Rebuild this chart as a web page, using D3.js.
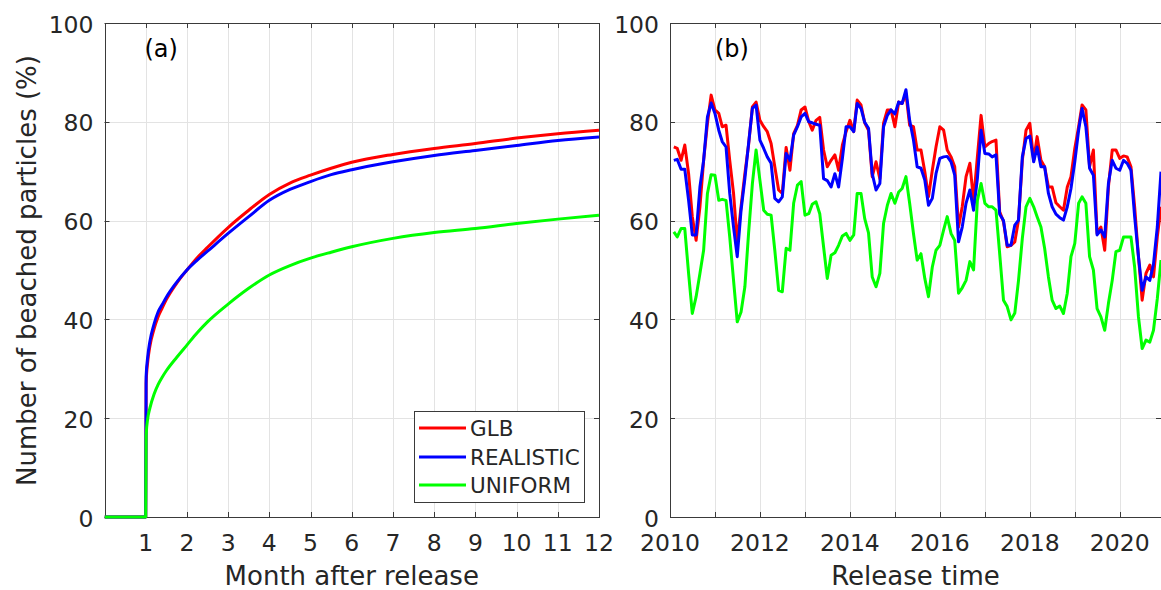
<!DOCTYPE html>
<html><head><meta charset="utf-8">
<script src="https://cdn.jsdelivr.net/npm/d3@7"></script>
<style>
body{margin:0;background:#fff}
svg{display:block}
text{font-family:"DejaVu Sans",sans-serif;fill:#262626}
</style>
</head><body>
<svg id="c" width="1161" height="590"></svg>
<script>
// ---------- data: panel (a) cumulative beaching vs month after release ----------
const monthsAfter = [0, 1, 1.01, 1.05, 1.1, 1.2, 1.3, 1.4, 1.5, 1.75, 2, 2.25, 2.5, 3, 3.5, 4, 4.5, 5, 5.5, 6, 7, 8, 9, 10, 11, 12];
const cumGLB      = [0, 0, 27.0, 31.5, 34.5, 38.0, 40.5, 42.3, 44.0, 47.3, 50.0, 52.5, 54.6, 58.6, 62.1, 65.3, 67.6, 69.2, 70.6, 71.8, 73.4, 74.6, 75.6, 76.7, 77.6, 78.3];
const cumREALISTIC= [0, 0, 28.5, 32.5, 35.5, 39.0, 41.5, 43.0, 44.5, 47.5, 50.0, 52.0, 53.8, 57.4, 60.8, 64.1, 66.3, 67.9, 69.3, 70.3, 71.9, 73.2, 74.2, 75.2, 76.2, 76.9];
const cumUNIFORM  = [0, 0, 16.5, 20.0, 22.0, 24.8, 26.8, 28.3, 29.6, 32.3, 34.8, 37.3, 39.5, 43.1, 46.3, 49.0, 50.9, 52.4, 53.6, 54.7, 56.4, 57.6, 58.4, 59.4, 60.3, 61.1];

// ---------- data: panel (b) beached fraction vs release time (monthly, Feb 2010 - Dec 2020) ----------
const releaseTimes = d3.timeMonth.range(new Date(2010, 1, 1), new Date(2021, 0, 1));
const tsGLB = [74.9,74.6,72.2,75.3,69.5,60.8,56.0,62.8,72.2,79.7,85.4,82.4,81.7,79.0,79.3,72.2,65.5,55.7,62.8,69.5,
  75.3,83.0,84.0,80.3,79.0,78.0,75.6,70.9,66.2,65.5,74.8,70.2,77.6,79.3,82.4,83.0,80.0,78.3,80.3,80.9,
  74.3,70.9,72.2,73.3,70.2,75.3,78.0,80.3,78.0,84.4,83.4,79.8,78.3,68.9,71.9,68.5,79.7,82.4,82.4,79.0,
  84.0,83.7,85.7,79.3,79.0,74.3,74.3,69.9,64.8,70.2,74.9,79.0,78.3,74.3,72.9,70.9,58.7,62.8,68.9,71.6,
  64.1,72.9,81.3,74.9,75.6,76.0,76.3,61.8,59.8,54.7,55.0,55.7,60.1,72.2,78.3,79.7,72.2,77.0,72.2,70.9,
  66.8,66.8,63.6,62.8,62.1,66.8,68.9,74.6,79.0,83.4,82.4,70.9,74.3,57.4,58.7,54.0,66.8,74.3,74.3,72.6,
  73.1,72.9,70.9,62.8,52.7,43.9,49.3,51.0,48.6,56.7,62.8];
const tsREALISTIC = [72.2,72.4,70.4,70.4,64.1,57.1,57.1,66.8,72.2,81.0,83.8,81.7,78.3,76.0,74.9,65.5,58.7,52.7,62.1,68.5,
  75.6,82.7,83.4,76.3,74.6,72.9,71.6,64.5,63.8,64.8,73.6,72.2,77.3,79.0,81.0,81.7,80.0,79.8,79.5,79.3,
  68.5,68.1,66.8,69.5,66.8,72.6,79.0,79.0,78.0,83.7,82.7,79.9,78.7,69.5,66.2,67.5,79.0,81.3,82.4,81.6,
  84.0,83.7,86.5,80.3,76.3,70.9,70.6,68.2,63.1,64.5,69.5,72.6,72.9,73.0,71.9,69.2,55.7,58.7,63.5,66.2,
  62.1,68.5,78.3,73.6,73.5,72.9,73.3,61.3,60.0,55.0,55.0,59.1,60.1,72.9,76.6,77.1,71.9,74.9,70.9,70.9,
  65.5,62.8,61.3,60.6,60.1,62.8,66.5,71.9,78.3,82.7,79.0,70.6,69.2,57.1,58.1,56.7,67.5,72.2,70.6,70.2,
  72.2,71.6,70.2,60.8,52.7,45.9,48.6,47.9,51.2,58.7,69.9];
const tsUNIFORM = [57.7,56.7,58.4,58.4,49.3,41.2,44.6,49.3,54.0,65.5,69.3,69.2,64.1,64.3,64.1,56.7,47.9,39.5,41.5,46.6,
  57.4,67.5,74.3,68.2,62.1,61.3,61.1,54.0,45.9,45.6,54.4,54.0,63.5,67.2,67.9,61.1,61.4,63.3,63.8,61.4,
  54.7,48.3,53.0,53.5,55.0,56.9,57.4,56.0,57.1,65.5,65.5,60.4,57.5,48.6,46.6,49.3,59.4,63.1,65.5,63.5,
  65.8,66.5,68.9,63.5,57.4,52.0,53.3,48.3,44.6,50.6,54.0,55.0,58.1,60.8,57.4,56.0,45.3,46.4,47.9,51.7,
  50.0,64.1,67.5,63.5,62.8,62.8,62.1,53.3,43.9,42.6,39.9,41.3,47.9,56.4,62.8,64.5,62.8,60.8,58.7,54.4,
  48.6,43.9,42.2,42.7,41.2,45.3,52.7,55.4,63.5,64.8,63.5,52.7,50.0,42.2,40.5,37.8,43.2,47.9,53.7,54.0,
  56.7,56.7,56.7,50.6,40.5,34.1,35.8,35.4,37.8,44.2,52.0];

const seriesNames  = ["GLB", "REALISTIC", "UNIFORM"];
const seriesColors = ["#ff0000", "#0000ff", "#00ff00"];
const yTicks = [0, 20, 40, 60, 80, 100];
const monthTicks = [1, 2, 3, 4, 5, 6, 7, 8, 9, 10, 11, 12];
const yearTicks = [2010, 2011, 2012, 2013, 2014, 2015, 2016, 2017, 2018, 2019, 2020];
const yearLabels = ["2010", "", "2012", "", "2014", "", "2016", "", "2018", "", "2020"];

// ---------- drawing ----------
const svg = d3.select("#c");
const yTop = 23, yBottom = 517;
const axisCol = "#3a3a3a", gridCol = "#e3e3e3";
const y = d3.scaleLinear().domain([0, 100]).range([yBottom, yTop]);

const xa = d3.scaleLinear().domain([0, 12]).range([104.5, 599]);
const xb = d3.scaleTime().domain([new Date(2010, 0, 1), new Date(2020, 11, 1)]).range([670, 1161]);

function panel(g, xTickPos, xTickLabels, xTitle, tag, x0, x1, id) {
  g.append("g").selectAll("line").data(xTickPos.filter(p => p > x0 + 1 && p < x1 - 1)).join("line")
    .attr("x1", d => Math.round(d) + 0.5).attr("x2", d => Math.round(d) + 0.5)
    .attr("y1", yTop).attr("y2", yBottom).attr("stroke", gridCol).attr("stroke-width", 1);
  g.append("g").selectAll("line").data(yTicks.filter(t => t > 0 && t < 100)).join("line")
    .attr("x1", x0).attr("x2", x1).attr("y1", d => Math.round(y(d)) + 0.5).attr("y2", d => Math.round(y(d)) + 0.5)
    .attr("stroke", gridCol).attr("stroke-width", 1);
  svg.append("clipPath").attr("id", id).append("rect")
    .attr("x", x0).attr("y", yTop - 2).attr("width", x1 - x0).attr("height", yBottom - yTop + 4);
  g.append("rect").attr("x", Math.round(x0) + 0.5).attr("y", yTop + 0.5)
    .attr("width", Math.round(x1) - Math.round(x0)).attr("height", yBottom - yTop)
    .attr("fill", "none").attr("stroke", axisCol).attr("stroke-width", 1);
  const tk = 5;
  g.append("g").selectAll("line").data(xTickPos).join("line")
    .attr("x1", d => Math.round(d) + 0.5).attr("x2", d => Math.round(d) + 0.5)
    .attr("y1", yBottom).attr("y2", yBottom - tk).attr("stroke", axisCol);
  g.append("g").selectAll("line").data(xTickPos).join("line")
    .attr("x1", d => Math.round(d) + 0.5).attr("x2", d => Math.round(d) + 0.5)
    .attr("y1", yTop).attr("y2", yTop + tk).attr("stroke", axisCol);
  g.append("g").selectAll("line").data(yTicks).join("line")
    .attr("x1", x0).attr("x2", x0 + tk).attr("y1", d => Math.round(y(d)) + 0.5).attr("y2", d => Math.round(y(d)) + 0.5)
    .attr("stroke", axisCol);
  g.append("g").selectAll("line").data(yTicks).join("line")
    .attr("x1", x1).attr("x2", x1 - tk).attr("y1", d => Math.round(y(d)) + 0.5).attr("y2", d => Math.round(y(d)) + 0.5)
    .attr("stroke", axisCol);
  g.append("g").selectAll("text").data(yTicks).join("text")
    .attr("x", x0 - 11).attr("y", d => y(d) + 9.5).attr("text-anchor", "end")
    .style("font-size", "23.5px").text(d => d);
  g.append("g").selectAll("text").data(xTickPos.map((p, i) => [p, xTickLabels[i]])).join("text")
    .attr("x", d => d[0]).attr("y", 550.5).attr("text-anchor", "middle")
    .style("font-size", "23.5px").text(d => d[1]);
  g.append("text").attr("x", (x0 + x1) / 2).attr("y", 585).attr("text-anchor", "middle")
    .style("font-size", "26px").text(xTitle);
  g.append("text").attr("x", x0 + (tag === "(a)" ? 40 : 45)).attr("y", 57)
    .style("font-size", "24px").style("fill", "#000").text(tag);
}

const ga = svg.append("g");
panel(ga, monthTicks.map(xa), monthTicks.map(String), "Month after release", "(a)", 104.5, 599, "clipA");
const gb = svg.append("g");
panel(gb, yearTicks.map(t => xb(new Date(t, 0, 1))), yearLabels, "Release time", "(b)", 670, 1161, "clipB");

svg.append("text").attr("transform", "translate(36,270.5) rotate(-90)").attr("text-anchor", "middle")
  .style("font-size", "26px").text("Number of beached particles (%)");

const cumSeries = [cumGLB, cumREALISTIC, cumUNIFORM];
const lineA = d3.line().x((d, i) => xa(monthsAfter[i])).y(d => y(d)).curve(d3.curveMonotoneX);
ga.append("g").attr("clip-path", "url(#clipA)").selectAll("path").data(cumSeries).join("path")
  .attr("d", lineA).attr("fill", "none").attr("stroke", (d, i) => seriesColors[i])
  .attr("stroke-width", 3).attr("stroke-linejoin", "round");

const tsSeries = [tsGLB, tsREALISTIC, tsUNIFORM];
const lineB = d3.line().x((d, i) => xb(releaseTimes[i])).y(d => y(d));
gb.append("g").attr("clip-path", "url(#clipB)").selectAll("path").data(tsSeries).join("path")
  .attr("d", lineB).attr("fill", "none").attr("stroke", (d, i) => seriesColors[i])
  .attr("stroke-width", 3).attr("stroke-linejoin", "round");

const lg = ga.append("g");
lg.append("rect").attr("x", 414.5).attr("y", 411.5).attr("width", 170).attr("height", 91)
  .attr("fill", "#fff").attr("stroke", axisCol).attr("stroke-width", 1);
const legY = [428, 457, 485];
seriesNames.forEach((n, i) => {
  lg.append("line").attr("x1", 419).attr("x2", 466).attr("y1", legY[i]).attr("y2", legY[i])
    .attr("stroke", seriesColors[i]).attr("stroke-width", 3);
  lg.append("text").attr("x", 470).attr("y", legY[i] + 8).style("font-size", "21.5px").text(n);
});
</script>
</body></html>
